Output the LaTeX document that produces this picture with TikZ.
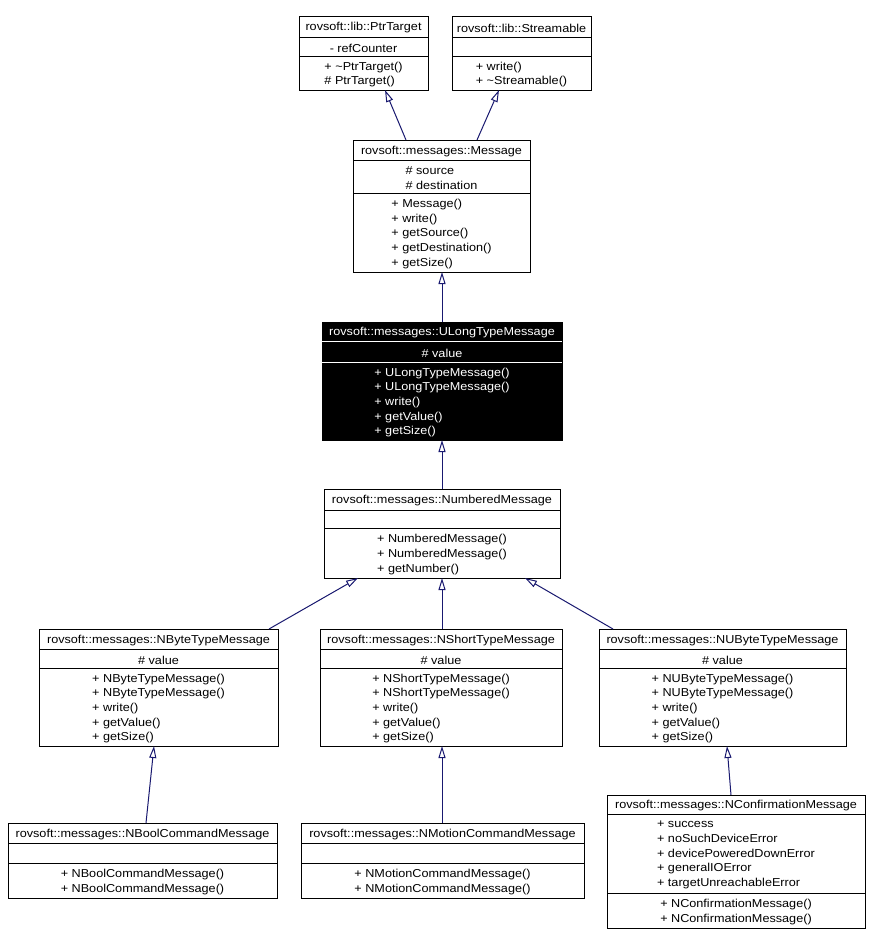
\documentclass[tikz,border=0pt]{standalone}
\usepackage{fontspec}
\setmainfont[FakeStretch=1.1]{Liberation Sans}
\usetikzlibrary{calc,arrows.meta}
\definecolor{edgecol}{HTML}{191970}
\tikzset{
  clsbox/.style={draw=black, fill=white, line width=1pt, inner sep=0pt, outer sep=0pt, rectangle},
  clstxt/.style={inner sep=0pt, align=left, font=\fontsize{11.5}{14.7}\selectfont, text=black, yshift=-1.5pt},
  seprule/.style={draw=black, line width=1pt},
  inh/.style={draw=edgecol, line width=1pt, -{Triangle[open, length=12pt, width=7pt, line width=1pt]}},
}
\newcommand{\umlcls}[9]{%
  \node[clsbox, minimum width={(#4)-(#2)}, minimum height={(#5)-(#3)}, anchor=north west] (#1) at (#2,#3) {};
  \coordinate (#1-b) at (#2,#7);
  \draw[seprule] (#2,#6) -- (#4,#6);
  \draw[seprule] (#2,#7) -- (#4,#7);
  \node[clstxt] (#1-t) at ({(#2+#4)/2},{(#3+#6)/2}) {#8};
  \node[clstxt] (#1-at) at ({(#2+#4)/2},{(#6+#7)/2}) {#9};
}
\newcommand{\umlops}[2]{%
  \path let \p1=(#1-b), \p2=(#1.south) in node[clstxt] (#1-op) at (\x2,{(\y1+\y2)/2}) {#2};
}
\begin{document}
\begin{tikzpicture}[x=1pt,y=-1pt]
\useasboundingbox[fill=white] (0,0) rectangle (868,945);

\umlcls{ptr}{299}{16}{428}{90}{37}{56}{rovsoft::lib::PtrTarget}{- refCounter}
\umlops{ptr}{+ \textasciitilde PtrTarget()\\\# PtrTarget()}

\umlcls{stream}{452}{16}{591}{90}{37}{56}{rovsoft::lib::Streamable}{}
\umlops{stream}{+ write()\\+ \textasciitilde Streamable()}

\umlcls{msg}{353}{140}{530}{272}{160}{193}{rovsoft::messages::Message}{\# source\\\# destination}
\umlops{msg}{+ Message()\\+ write()\\+ getSource()\\+ getDestination()\\+ getSize()}

\begin{scope}[clsbox/.append style={fill=black}, clstxt/.append style={text=white}, seprule/.append style={draw=white}]
\umlcls{ulong}{322}{322}{562}{440}{341}{362}{rovsoft::messages::ULongTypeMessage}{\# value}
\umlops{ulong}{+ ULongTypeMessage()\\+ ULongTypeMessage()\\+ write()\\+ getValue()\\+ getSize()}
\end{scope}

\umlcls{num}{324}{489}{560}{578}{510}{528}{rovsoft::messages::NumberedMessage}{}
\umlops{num}{+ NumberedMessage()\\+ NumberedMessage()\\+ getNumber()}

\umlcls{nbyte}{39}{629}{278}{746}{649}{668}{rovsoft::messages::NByteTypeMessage}{\# value}
\umlops{nbyte}{+ NByteTypeMessage()\\+ NByteTypeMessage()\\+ write()\\+ getValue()\\+ getSize()}

\umlcls{nshort}{320}{629}{562}{746}{649}{668}{rovsoft::messages::NShortTypeMessage}{\# value}
\umlops{nshort}{+ NShortTypeMessage()\\+ NShortTypeMessage()\\+ write()\\+ getValue()\\+ getSize()}

\umlcls{nubyte}{599}{629}{846}{746}{649}{668}{rovsoft::messages::NUByteTypeMessage}{\# value}
\umlops{nubyte}{+ NUByteTypeMessage()\\+ NUByteTypeMessage()\\+ write()\\+ getValue()\\+ getSize()}

\umlcls{nbool}{8}{823}{277}{898}{843}{863}{rovsoft::messages::NBoolCommandMessage}{}
\umlops{nbool}{+ NBoolCommandMessage()\\+ NBoolCommandMessage()}

\umlcls{nmotion}{301}{823}{584}{898}{843}{863}{rovsoft::messages::NMotionCommandMessage}{}
\umlops{nmotion}{+ NMotionCommandMessage()\\+ NMotionCommandMessage()}

\umlcls{nconf}{607}{795}{865}{928}{814}{893}{rovsoft::messages::NConfirmationMessage}{+ success\\+ noSuchDeviceError\\+ devicePoweredDownError\\+ generalIOError\\+ targetUnreachableError}
\umlops{nconf}{+ NConfirmationMessage()\\+ NConfirmationMessage()}

% inheritance connectors
\draw[inh] ($(msg.north west)+(53,0)$) -- ($(ptr.south west)+(86,0)$);
\draw[inh] ($(msg.north west)+(124,0)$) -- ($(stream.south west)+(47,0)$);
\draw[inh] ($(ulong.north west)+(120,0)$) -- ($(msg.south west)+(89,0)$);
\draw[inh] ($(num.north west)+(118,0)$) -- ($(ulong.south west)+(120,0)$);
\draw[inh] ($(nbyte.north west)+(230,0)$) -- ($(num.south west)+(34,0)$);
\draw[inh] ($(nshort.north west)+(122,0)$) -- ($(num.south west)+(118,0)$);
\draw[inh] ($(nubyte.north west)+(14,0)$) -- ($(num.south west)+(201,0)$);
\draw[inh] ($(nbool.north west)+(138,0)$) -- ($(nbyte.south west)+(115,0)$);
\draw[inh] ($(nmotion.north west)+(141,0)$) -- ($(nshort.south west)+(122,0)$);
\draw[inh] ($(nconf.north west)+(124,0)$) -- ($(nubyte.south west)+(128,0)$);
\end{tikzpicture}
\end{document}
